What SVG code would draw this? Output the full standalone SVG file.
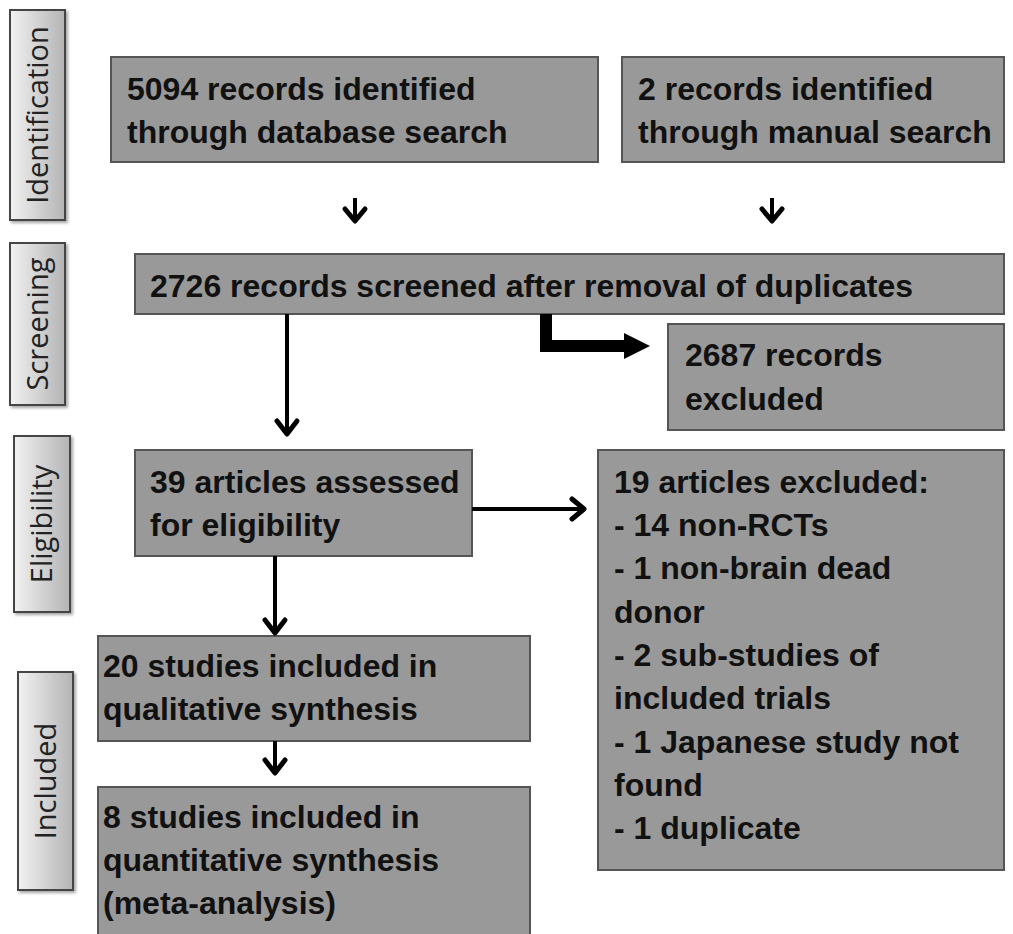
<svg xmlns="http://www.w3.org/2000/svg" width="1013" height="934" viewBox="0 0 1013 934">
<defs>
<linearGradient id="lg" x1="0" y1="0" x2="1" y2="0">
<stop offset="0" stop-color="#f2f2f2"/>
<stop offset="1" stop-color="#b4b4b4"/>
</linearGradient>
<filter id="sh" x="-20%" y="-20%" width="140%" height="140%">
<feDropShadow dx="2" dy="2" stdDeviation="1.5" flood-color="#000" flood-opacity="0.35"/>
</filter>
<style>
.box{fill:#999999;stroke:#555555;stroke-width:2}
.lab{fill:url(#lg);stroke:#444444;stroke-width:2;filter:url(#sh)}
.t{font-family:"Liberation Sans",Arial,sans-serif;font-weight:bold;font-size:32px;fill:#111111}
.lt{font-family:"Open Sans","Liberation Sans",sans-serif;font-size:29px;fill:#222222;text-anchor:middle}
.ln{fill:none;stroke:#000;stroke-width:4}
.hd{fill:none;stroke:#000;stroke-width:5;stroke-linecap:round;stroke-linejoin:round}
</style>
</defs>
<rect width="1013" height="934" fill="#ffffff"/>

<g id="label-identification">
<rect class="lab" x="10" y="10" width="55" height="210"/>
<text class="lt" transform="translate(48,115) rotate(-90)">Identification</text>
</g>
<g id="label-screening">
<rect class="lab" x="10" y="243" width="55" height="162"/>
<text class="lt" transform="translate(48,324) rotate(-90)">Screening</text>
</g>
<g id="label-eligibility">
<rect class="lab" x="14" y="436" width="56" height="176"/>
<text class="lt" transform="translate(52,524) rotate(-90)">Eligibility</text>
</g>
<g id="label-included">
<rect class="lab" x="18" y="672" width="55" height="218"/>
<text class="lt" transform="translate(56,781) rotate(-90)">Included</text>
</g>

<g id="box-database">
<rect class="box" x="111" y="57" width="487" height="105"/>
<text class="t" x="127" y="100">5094 records identified</text>
<text class="t" x="127" y="143">through database search</text>
</g>
<g id="box-manual">
<rect class="box" x="622" y="57" width="382" height="105"/>
<text class="t" x="638" y="100">2 records identified</text>
<text class="t" x="638" y="143">through manual search</text>
</g>
<g id="box-screened">
<rect class="box" x="135" y="254" width="869" height="60"/>
<text class="t" x="150" y="297">2726 records screened after removal of duplicates</text>
</g>
<g id="box-excluded-records">
<rect class="box" x="668" y="324" width="336" height="106"/>
<text class="t" x="685" y="366">2687 records</text>
<text class="t" x="685" y="410">excluded</text>
</g>
<g id="box-assessed">
<rect class="box" x="135" y="450" width="337" height="106"/>
<text class="t" x="150" y="493">39 articles assessed</text>
<text class="t" x="150" y="536">for eligibility</text>
</g>
<g id="box-excluded-articles">
<rect class="box" x="598" y="450" width="406" height="420"/>
<text class="t" x="614" y="493">19 articles excluded:</text>
<text class="t" x="614" y="536">- 14 non-RCTs</text>
<text class="t" x="614" y="579">- 1 non-brain dead</text>
<text class="t" x="614" y="623">donor</text>
<text class="t" x="614" y="666">- 2 sub-studies of</text>
<text class="t" x="614" y="709">included trials</text>
<text class="t" x="614" y="753">- 1 Japanese study not</text>
<text class="t" x="614" y="796">found</text>
<text class="t" x="614" y="839">- 1 duplicate</text>
</g>
<g id="box-qualitative">
<rect class="box" x="98" y="636" width="432" height="105"/>
<text class="t" x="103" y="677">20 studies included in</text>
<text class="t" x="103" y="720">qualitative synthesis</text>
</g>
<g id="box-quantitative">
<rect class="box" x="98" y="787" width="432" height="160"/>
<text class="t" x="103" y="828">8 studies included in</text>
<text class="t" x="103" y="871">quantitative synthesis</text>
<text class="t" x="103" y="914">(meta-analysis)</text>
</g>

<g id="connectors">
<line class="ln" x1="355" y1="198" x2="355" y2="221"/>
<polyline class="hd" points="345,209 355,221 365,209"/>
<line class="ln" x1="772" y1="198" x2="772" y2="221"/>
<polyline class="hd" points="762,209 772,221 782,209"/>
<line class="ln" x1="287" y1="314" x2="287" y2="434"/>
<polyline class="hd" points="277,421 287,434 297,421"/>
<polyline fill="none" stroke="#000" stroke-width="12" points="546,314 546,346 625,346"/>
<polygon fill="#000" points="624,333 650,346 624,359"/>
<line class="ln" x1="472" y1="509" x2="584" y2="509"/>
<polyline class="hd" points="572,499 584,509 572,519"/>
<line class="ln" x1="275" y1="556" x2="275" y2="633"/>
<polyline class="hd" points="265,620 275,633 285,620"/>
<line class="ln" x1="275" y1="741" x2="275" y2="773"/>
<polyline class="hd" points="265,760 275,773 285,760"/>
</g>
</svg>
